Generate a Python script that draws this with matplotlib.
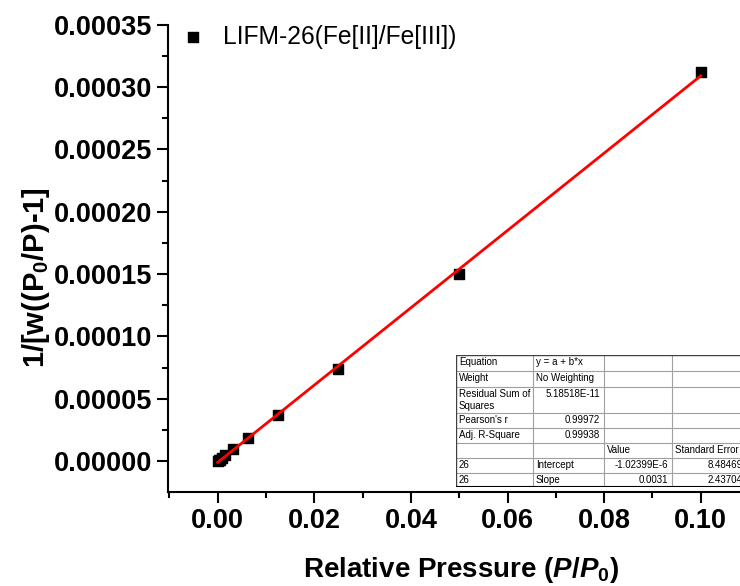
import matplotlib
matplotlib.use("Agg")
import matplotlib.pyplot as plt
import numpy as np

plt.rcParams['font.family'] = ['Liberation Sans', 'DejaVu Sans']
plt.rcParams['mathtext.fontset'] = 'custom'
plt.rcParams['mathtext.rm'] = 'Liberation Sans:bold'
plt.rcParams['mathtext.it'] = 'Liberation Sans:italic:bold'
plt.rcParams['mathtext.bf'] = 'Liberation Sans:bold'

# measured points (relative pressure vs BET transform)
rel_pressure = [0.0001, 0.0002, 0.00039, 0.00078, 0.0015625, 0.003125, 0.00625, 0.0125, 0.025, 0.05, 0.1]
bet_value = [0.0000003, 0.0000006, 0.0000012, 0.0000024, 0.0000048, 0.0000096, 0.0000186, 0.0000369, 0.0000738, 0.000150, 0.000312]

# linear fit results
intercept = -1.02399e-6
slope = 0.0031
fit_x = [0.0, 0.1]

series_name = "LIFM-26(Fe[II]/Fe[III])"

# fit report table
table_rows = [
    ["Equation", "y = a + b*x", "", ""],
    ["Weight", "No Weighting", "", ""],
    ["Residual Sum of\nSquares", "5.18518E-11", "", ""],
    ["Pearson's r", "0.99972", "", ""],
    ["Adj. R-Square", "0.99938", "", ""],
    ["", "", "Value", "Standard Error"],
    ["26", "Intercept", "-1.02399E-6", "8.48469E-7"],
    ["26", "Slope", "0.0031", "2.43704E-5"],
]
row_px = [16, 16, 26, 15, 15, 15, 15, 14]
col_px = [77, 71, 68, 90]

fig = plt.figure(figsize=(7.4, 5.86), dpi=100)
ax = fig.add_axes([168 / 740, 94 / 586, 581 / 740, 467.3 / 586])

ax.scatter(rel_pressure, bet_value, marker='s', s=55, color='black', zorder=3, label=series_name)
fx = np.array(fit_x)
ax.plot(fx, intercept + slope * fx, color='red', lw=2, zorder=4)

ax.set_xlim(-0.0103, 0.11)
ax.set_ylim(-0.0000248, 0.00035)
ax.set_xticks([0.0, 0.02, 0.04, 0.06, 0.08, 0.10])
ax.set_xticks(np.arange(-0.01, 0.111, 0.01), minor=True)
ax.set_yticks(np.arange(0, 0.000351, 0.00005))
ax.set_yticks(np.arange(0.000025, 0.000351, 0.00005), minor=True)
ax.xaxis.set_major_formatter(matplotlib.ticker.FormatStrFormatter('%.2f'))
ax.yaxis.set_major_formatter(matplotlib.ticker.FormatStrFormatter('%.5f'))
for s in ['top', 'right']:
    ax.spines[s].set_visible(False)
for s in ['left', 'bottom']:
    ax.spines[s].set_linewidth(1.5)
ax.tick_params(which='major', direction='out', length=8, width=1.5, labelsize=19.5)
ax.tick_params(which='minor', direction='out', length=4, width=1.5)
for lab in ax.get_xticklabels() + ax.get_yticklabels():
    lab.set_fontweight('bold')

ax.set_xlabel(r'Relative Pressure ($\mathit{P/P_0}$)', fontsize=20, fontweight='bold', labelpad=15, x=0.505)
ax.set_ylabel(r'1/[w((P$_\mathbf{0}$/P)-1]', fontsize=21, fontweight='bold', labelpad=1, y=0.458)

ax.legend(loc='upper left', frameon=False, fontsize=17.7, markerscale=1.0, handletextpad=0.25,
          borderaxespad=0, borderpad=0, bbox_to_anchor=(0.0, 1.0))

# table drawn in pixel coords inside an inset axes
tw, th = sum(col_px), sum(row_px)
tax = fig.add_axes([456 / 740, (586 - 487) / 586, tw / 740, th / 586])
tax.set_xlim(0, tw)
tax.set_ylim(th, 0)
tax.axis('off')
tax.add_patch(plt.Rectangle((0, 0), tw, th, facecolor='white', edgecolor='none', zorder=0))
ys = np.concatenate([[0], np.cumsum(row_px)])
xs = np.concatenate([[0], np.cumsum(col_px)])
for y in ys[1:-1]:
    tax.plot([0, tw], [y, y], color='#a0a0a0', lw=0.8)
for x in xs[1:-1]:
    tax.plot([x, x], [0, th], color='#a0a0a0', lw=0.8)
tax.plot([0, tw], [0, 0], color='#404040', lw=1)
tax.plot([0, 0], [0, th], color='#404040', lw=1)
tax.plot([0, tw], [th, th], color='black', lw=1.5)
for i, row in enumerate(table_rows):
    for j, txt in enumerate(row):
        if not txt:
            continue
        numeric = txt[0].isdigit() or txt[0] == '-'
        right = numeric and not (j == 0)
        if right:
            tax.text(xs[j + 1] - 4, ys[i] + 2, txt, ha='right', va='top', fontsize=7)
        else:
            tax.text(xs[j] + 3, ys[i] + 2, txt, ha='left', va='top', fontsize=7, linespacing=1.3)

fig.savefig('out.png', dpi=100)
